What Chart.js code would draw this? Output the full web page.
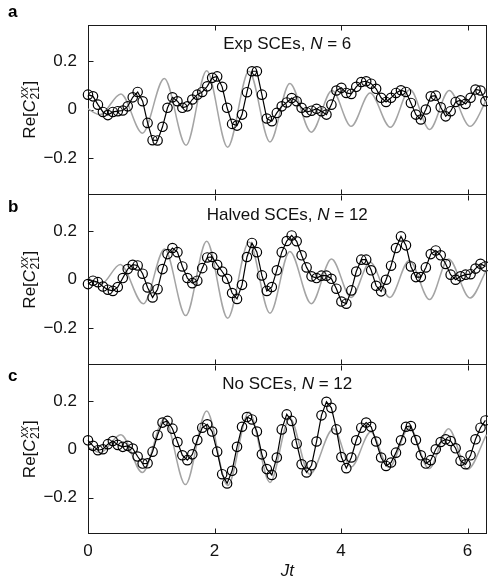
<!DOCTYPE html>
<html><head><meta charset="utf-8">
<script src="https://cdn.jsdelivr.net/npm/chart.js@4.4.1/dist/chart.umd.min.js"></script>
<style>
html,body{margin:0;padding:0;background:#fff;}
#wrap{position:relative;width:488px;height:578px;overflow:hidden;background:#fff;}
canvas{position:absolute;left:0;}
</style></head><body>
<div id="wrap">
<canvas id="ca" style="top:0px"></canvas>
<canvas id="cb" style="top:195px"></canvas>
<canvas id="cc" style="top:364px"></canvas>
</div>
<script>
// ---------- data ----------
const TIMES = [0,0.079,0.157,0.236,0.314,0.393,0.471,0.550,0.628,0.707,
0.785,0.864,0.942,1.021,1.100,1.178,1.257,1.335,1.414,1.492,
1.571,1.649,1.728,1.806,1.885,1.963,2.042,2.121,2.199,2.278,
2.356,2.435,2.513,2.592,2.670,2.749,2.827,2.906,2.985,3.063,
3.142,3.220,3.299,3.377,3.456,3.534,3.613,3.691,3.770,3.848,
3.927,4.006,4.084,4.163,4.241,4.320,4.398,4.477,4.555,4.634,
4.712,4.791,4.869,4.948,5.027,5.105,5.184,5.262,5.341,5.419,
5.498,5.576,5.655,5.733,5.812,5.890,5.969,6.048,6.126,6.205,6.283];

const EXP_A = [0.062,0.055,0.021,-0.009,-0.022,-0.009,-0.006,-0.003,0.014,0.051,
0.073,0.035,-0.054,-0.125,-0.126,-0.070,0.008,0.051,0.035,0.008,
0.014,0.042,0.062,0.073,0.096,0.131,0.137,0.094,0.008,-0.058,
-0.065,-0.020,0.072,0.158,0.158,0.062,-0.036,-0.047,-0.013,0.014,
0.030,0.048,0.035,0.008,-0.010,-0.004,0.004,-0.006,-0.020,0.021,
0.079,0.090,0.069,0.065,0.094,0.114,0.117,0.107,0.086,0.049,
0.032,0.049,0.069,0.080,0.073,0.028,-0.020,-0.040,0.001,0.055,
0.058,0.010,-0.027,-0.006,0.032,0.039,0.024,0.049,0.083,0.079,0.035];

const EXP_B = [-0.018,-0.004,-0.010,-0.028,-0.041,-0.046,-0.030,0.007,0.044,0.062,
0.059,0.025,-0.032,-0.073,-0.039,0.044,0.106,0.131,0.114,0.055,
0.007,-0.014,-0.004,0.048,0.092,0.094,0.062,0.034,0.004,-0.055,
-0.079,-0.021,0.094,0.152,0.114,0.018,-0.046,-0.030,0.039,0.114,
0.160,0.183,0.159,0.101,0.051,0.014,0.007,0.017,0.017,0.004,
-0.037,-0.090,-0.099,-0.044,0.034,0.083,0.083,0.039,-0.025,-0.048,
0.000,0.058,0.131,0.179,0.142,0.055,0.011,0.011,0.051,0.106,
0.121,0.101,0.065,0.021,0.000,0.014,0.021,0.023,0.046,0.066,0.055];

const EXP_C = [0.037,0.014,-0.004,0.000,0.021,0.034,0.018,0.010,0.014,0.003,
-0.030,-0.059,-0.058,-0.010,0.059,0.110,0.117,0.085,0.030,-0.025,
-0.045,-0.021,0.038,0.089,0.103,0.073,-0.010,-0.103,-0.141,-0.089,
0.010,0.093,0.133,0.123,0.073,-0.021,-0.082,-0.106,-0.034,0.082,
0.144,0.117,0.023,-0.062,-0.096,-0.066,0.032,0.140,0.196,0.171,
0.082,-0.032,-0.078,-0.034,0.037,0.089,0.110,0.093,0.032,-0.034,
-0.069,-0.055,-0.014,0.037,0.093,0.096,0.038,-0.025,-0.059,-0.045,
0.000,0.030,0.041,0.034,0.004,-0.048,-0.062,-0.025,0.041,0.089,0.119];

// theory curves (read at extrema)
const TH_A_T = [0,0.19,0.52,0.86,1.207,1.55,1.876,2.208,2.545,2.877,3.19,3.53,3.86,4.16,4.46,4.78,5.09,5.40,5.71,6.04,6.30];
const TH_A_V = [0.003,-0.020,0.065,-0.096,0.128,-0.146,0.160,-0.154,0.158,-0.132,0.108,-0.092,0.079,-0.068,0.069,-0.072,0.083,-0.081,0.079,-0.068,0.040];
const TH_B_T = [0,0.21,0.51,0.875,1.212,1.545,1.876,2.208,2.545,2.877,3.19,3.53,3.85,4.16,4.46,4.77,5.08,5.40,5.70,6.04,6.30];
const TH_B_V = [0.005,-0.017,0.063,-0.099,0.127,-0.148,0.159,-0.159,0.156,-0.138,0.117,-0.099,0.086,-0.073,0.072,-0.073,0.080,-0.082,0.086,-0.075,0.040];
const TH_C_T = [0,0.19,0.52,0.86,1.21,1.54,1.876,2.208,2.545,2.877,3.19,3.505,3.88,4.16,4.47,4.76,5.08,5.39,5.70,6.00,6.30];
const TH_C_V = [0.010,-0.014,0.060,-0.096,0.125,-0.146,0.158,-0.150,0.154,-0.137,0.128,-0.103,0.085,-0.073,0.071,-0.075,0.090,-0.080,0.085,-0.083,0.060];

const X_TICKS = [0,2,4,6];
const Y_TICKS = [-0.2,0,0.2];
const X_MIN = 0, X_MAX = 6.3, Y_MIN = -0.35, Y_MAX = 0.35;

const TITLES = [
  [['Exp SCEs, ',0],['N',1],[' = 6',0]],
  [['Halved SCEs, ',0],['N',1],[' = 12',0]],
  [['No SCEs, ',0],['N',1],[' = 12',0]]
];
const LETTERS = ['a','b','c'];

// ---------- drawing ----------
const FONT = '"Liberation Sans", Arial, Helvetica, sans-serif';
const FS = 17;

function fnt(it, size, bold){ return (it?'italic ':'') + (bold?'bold ':'') + size + 'px ' + FONT; }

const panelPlugin = {
  id: 'panel',
  beforeDatasetsDraw(chart, args, opts) {
    const {ctx, chartArea: a, scales: {x, y}} = chart;
    ctx.save();
    const L = Math.round(a.left) + 0.5, R = Math.round(a.right) - 0.5;
    const T = Math.round(a.top) + 0.5, B = Math.round(a.bottom) - 0.5;
    ctx.strokeStyle = '#1a1a1a';
    ctx.lineWidth = 1;
    ctx.beginPath();
    if (opts.drawTop) { ctx.moveTo(L, T); ctx.lineTo(R, T); }
    ctx.moveTo(L, T - 0.5); ctx.lineTo(L, B + 0.5);
    ctx.moveTo(R, T - 0.5); ctx.lineTo(R, B + 0.5);
    ctx.moveTo(L - 0.5, B); ctx.lineTo(R + 0.5, B);
    for (const v of X_TICKS) {
      if (v === X_MIN) continue;
      const px = Math.round(x.getPixelForValue(v)) + 0.5;
      ctx.moveTo(px, T); ctx.lineTo(px, T + 5);
      ctx.moveTo(px, B); ctx.lineTo(px, B - 5);
    }
    for (const v of Y_TICKS) {
      const py = Math.round(y.getPixelForValue(v)) + 0.5;
      ctx.moveTo(L, py); ctx.lineTo(L + 5, py);
    }
    ctx.stroke();

    // panel title
    ctx.fillStyle = '#111';
    ctx.textBaseline = 'alphabetic';
    ctx.textAlign = 'left';
    const parts = opts.title;
    let tot = 0;
    const ws = parts.map(p => { ctx.font = fnt(p[1], FS); const w = ctx.measureText(p[0]).width; tot += w; return w; });
    let tx = (a.left + a.right) / 2 - tot / 2;
    parts.forEach((p, k) => { ctx.font = fnt(p[1], FS); ctx.fillText(p[0], tx, a.top + 24.5); tx += ws[k]; });

    // panel letter
    ctx.font = fnt(0, 17, 1);
    ctx.fillStyle = '#000';
    ctx.fillText(opts.letter, 8, 17);

    // y-axis title  Re[C^{xx}_{21}]
    const cy = (a.top + a.bottom) / 2;
    ctx.translate(35, cy);
    ctx.rotate(-Math.PI / 2);
    const main1 = 'Re[', mainC = 'C', sup = 'xx', sub = '21', close = ']';
    const SS = 12;
    ctx.font = fnt(0, FS); const w1 = ctx.measureText(main1).width;
    ctx.font = fnt(1, FS); const wC = ctx.measureText(mainC).width;
    ctx.font = fnt(1, SS); const wSup = ctx.measureText(sup).width;
    ctx.font = fnt(0, SS); const wSub = ctx.measureText(sub).width;
    ctx.font = fnt(0, FS); const wCl = ctx.measureText(close).width;
    const wS = Math.max(wSup + 1, wSub) + 1;
    let ox = -(w1 + wC + wS + wCl) / 2;
    ctx.fillStyle = '#111';
    ctx.font = fnt(0, FS); ctx.fillText(main1, ox, 0); ox += w1;
    ctx.font = fnt(1, FS); ctx.fillText(mainC, ox, 0); ox += wC;
    ctx.font = fnt(1, SS); ctx.fillText(sup, ox + 1.5, -7);
    ctx.font = fnt(0, SS); ctx.fillText(sub, ox + 0.5, 4);
    ox += wS;
    ctx.font = fnt(0, FS); ctx.fillText(close, ox, 0);
    ctx.restore();
  },
  afterDraw(chart, args, opts) {
    if (!opts.xTitle) return;
    const {ctx, chartArea: a} = chart;
    ctx.save();
    ctx.font = fnt(1, FS);
    ctx.fillStyle = '#111';
    ctx.textAlign = 'center';
    ctx.textBaseline = 'alphabetic';
    ctx.fillText('Jt', (a.left + a.right) / 2, a.bottom + 42);
    ctx.restore();
  }
};

function yFmt(v) {
  if (Math.abs(v) < 1e-9) return '0';
  return (v < 0 ? '\u2212' : '') + Math.abs(v).toFixed(1);
}

function makeChart(id, h, pad, exp, tt, tv, k, showX) {
  const cv = document.getElementById(id);
  cv.width = 488; cv.height = h;
  cv.style.width = '488px'; cv.style.height = h + 'px';
  return new Chart(cv, {
    type: 'line',
    data: {
      datasets: [
        {
          data: TIMES.map((t, i) => ({x: t, y: exp[i]})),
          borderColor: '#000', borderWidth: 1.2, tension: 0,
          pointRadius: 4.7, pointBorderWidth: 1.2,
          pointBackgroundColor: 'rgba(0,0,0,0)', pointBorderColor: '#000',
          order: 0, clip: false
        },
        {
          data: tt.map((t, i) => ({x: t, y: tv[i]})),
          borderColor: '#a4a4a4', borderWidth: 1.5, pointRadius: 0,
          cubicInterpolationMode: 'monotone', order: 1, clip: false
        }
      ]
    },
    options: {
      responsive: false, animation: false, events: [],
      devicePixelRatio: 1,
      layout: {padding: pad, autoPadding: false},
      plugins: {
        legend: {display: false}, tooltip: {enabled: false},
        panel: {title: TITLES[k], letter: LETTERS[k], xTitle: showX, drawTop: k === 0}
      },
      scales: {
        x: {
          type: 'linear', min: X_MIN, max: X_MAX, display: showX,
          grid: {display: false, drawTicks: false}, border: {display: false},
          afterBuildTicks: s => { s.ticks = X_TICKS.map(v => ({value: v})); },
          ticks: {font: {family: FONT, size: FS}, color: '#111', padding: 7, maxRotation: 0, autoSkip: false,
                  callback: v => String(v)},
          afterFit: s => { s.height = showX ? 44 : 0; s.paddingLeft = 0; s.paddingRight = 0; }
        },
        y: {
          type: 'linear', min: Y_MIN, max: Y_MAX,
          grid: {display: false, drawTicks: false}, border: {display: false},
          afterBuildTicks: s => { s.ticks = Y_TICKS.map(v => ({value: v})); },
          ticks: {font: {family: FONT, size: FS}, color: '#111', padding: 11, callback: v => yFmt(v)},
          afterFit: s => { s.width = 88; s.paddingTop = 0; s.paddingBottom = 0; }
        }
      }
    },
    plugins: [panelPlugin]
  });
}

makeChart('ca', 196, {top: 24.5, bottom: 1, left: 0, right: 1.5}, EXP_A, TH_A_T, TH_A_V, 0, false);
makeChart('cb', 170, {top: 0, bottom: 0.5, left: 0, right: 1.5}, EXP_B, TH_B_T, TH_B_V, 1, false);
makeChart('cc', 214, {top: 0.5, bottom: 0, left: 0, right: 1.5}, EXP_C, TH_C_T, TH_C_V, 2, true);
</script>
</body></html>
